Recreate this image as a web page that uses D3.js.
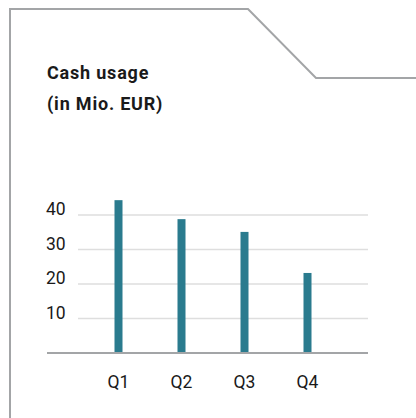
<!DOCTYPE html>
<html>
<head>
<meta charset="utf-8">
<script src="https://cdnjs.cloudflare.com/ajax/libs/d3/7.8.5/d3.min.js"></script>
<style>
  html, body { margin: 0; padding: 0; background: #fff; }
  svg { display: block; }
  text { font-family: Roboto, "DejaVu Sans", sans-serif; fill: #1a1a1a; }
</style>
</head>
<body>
<div id="chart"></div>
<script>
var quarters = ['Q1', 'Q2', 'Q3', 'Q4'];
var cashUsage = [44.3, 38.8, 35.1, 23.2];
var yTicks = [10, 20, 30, 40];
var titleLines = ['Cash usage', '(in Mio. EUR)'];

var W = 416, H = 418;
var barColor = '#2a7b8e';
var frameColor = '#a3a5a7';

var svg = d3.select('#chart')
    .append('svg')
    .attr('width', W)
    .attr('height', H);

// frame with the cut corner
svg.append('path')
    .attr('d', d3.line()([[10, H], [10, 9], [248, 9], [316, 78], [W, 78]]))
    .attr('fill', 'none')
    .attr('stroke', frameColor)
    .attr('stroke-width', 2);

// title
svg.selectAll('text.title')
    .data(titleLines)
    .enter()
    .append('text')
    .attr('class', 'title')
    .attr('x', 47)
    .attr('y', function(d, i){ return 79 + i*31; })
    .attr('font-size', 18)
    .attr('font-weight', 'bold')
    .attr('letter-spacing', 0.8)
    .text(function(d){ return d; });

var x = d3.scalePoint()
    .domain(quarters)
    .range([87, 339])
    .padding(0.5);

var y = d3.scaleLinear()
    .domain([0, 40])
    .range([353, 215]);

//gridlines
svg.selectAll('line.grid')
    .data(yTicks)
    .enter()
    .append('line')
    .attr('class', 'grid')
    .attr('x1', 78)
    .attr('x2', 368)
    .attr('y1', function(d){ return y(d); })
    .attr('y2', function(d){ return y(d); })
    .attr('stroke', '#dedede')
    .attr('stroke-width', 1.3);

//y labels
svg.selectAll('text.ytick')
    .data(yTicks)
    .enter()
    .append('text')
    .attr('class', 'ytick')
    .attr('x', 46)
    .attr('y', function(d){ return y(d); })
    .attr('font-size', 17.5)
    .text(function(d){ return d; });

//bars
var barW = 8;
svg.selectAll('rect.bar')
    .data(cashUsage)
    .enter()
    .append('rect')
    .attr('class', 'bar')
    .attr('x', function(d, i){ return x(quarters[i]) - barW/2; })
    .attr('y', function(d){ return y(d); })
    .attr('width', barW)
    .attr('height', function(d){ return y(0) - y(d); })
    .attr('fill', barColor);

//baseline
svg.append('line')
    .attr('x1', 47)
    .attr('x2', 368)
    .attr('y1', y(0))
    .attr('y2', y(0))
    .attr('stroke', frameColor)
    .attr('stroke-width', 2);

//x labels
svg.selectAll('text.xtick')
    .data(quarters)
    .enter()
    .append('text')
    .attr('class', 'xtick')
    .attr('x', function(d){ return x(d); })
    .attr('y', 388)
    .attr('text-anchor', 'middle')
    .attr('font-size', 17.5)
    .text(function(d){ return d; });
</script>
</body>
</html>
